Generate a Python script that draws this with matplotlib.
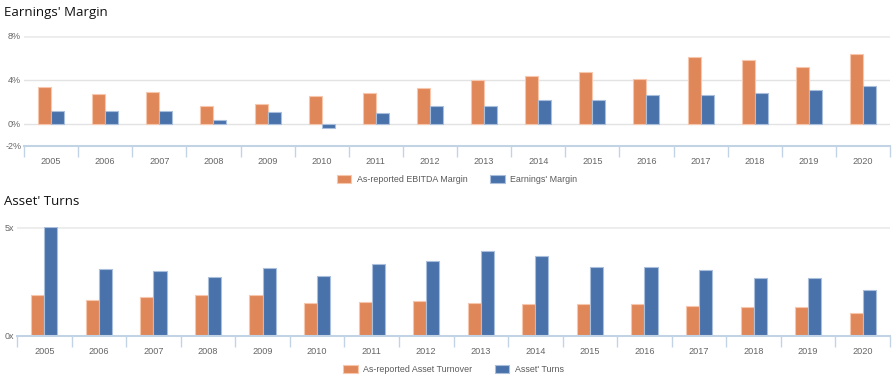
import numpy as np
import matplotlib
matplotlib.use('Agg')
import matplotlib.pyplot as plt

plt.rcParams['font.family'] = ['Liberation Sans', 'DejaVu Sans']

years = ['2005', '2006', '2007', '2008', '2009', '2010', '2011', '2012',
         '2013', '2014', '2015', '2016', '2017', '2018', '2019', '2020']

# Earnings' Margin (%)
ebitda_margin = [3.4, 2.7, 2.9, 1.65, 1.8, 2.55, 2.8, 3.3,
                 4.0, 4.4, 4.7, 4.1, 6.05, 5.8, 5.2, 6.4]
earnings_margin = [1.2, 1.2, 1.2, 0.35, 1.1, -0.4, 1.0, 1.65,
                   1.65, 2.2, 2.2, 2.65, 2.65, 2.8, 3.05, 3.45]

# Asset' Turns (x)
asset_turnover = [1.9, 1.66, 1.78, 1.86, 1.9, 1.5, 1.57, 1.61,
                  1.5, 1.46, 1.46, 1.46, 1.38, 1.34, 1.34, 1.07]
asset_turns = [5.0, 3.07, 2.99, 2.7, 3.1, 2.76, 3.32, 3.44,
               3.9, 3.68, 3.15, 3.18, 3.02, 2.65, 2.65, 2.12]

orange = '#e0875a'
blue = '#4a72aa'
orange_edge = '#f6c7ad'
blue_edge = '#a9bfdc'
axis_col = '#c3d3e6'
grid_col = '#e3e3e3'
text_col = '#666666'

fig = plt.figure(figsize=(8.96, 3.8), dpi=100)


def bar_panel(ax, a, b, ylim, yticks, ylabels, grid_vals, label_a, label_b, legend_y):
    x = np.arange(len(years))
    w = 0.24
    for g in grid_vals:
        lw = 2.0 if g == grid_vals[-1] else 1.0
        c = '#ececec' if g == grid_vals[-1] else grid_col
        ax.axhline(g, color=c, lw=lw, zorder=0)
    ax.bar(x - w / 2, a, w, color=orange, edgecolor=orange_edge, linewidth=0.8,
           label=label_a, zorder=2)
    ax.bar(x + w / 2, b, w, color=blue, edgecolor=blue_edge, linewidth=0.8,
           label=label_b, zorder=2)
    ax.set_xlim(-0.5, len(years) - 0.5)
    ax.set_ylim(*ylim)
    for s in ['top', 'right', 'left']:
        ax.spines[s].set_visible(False)
    ax.spines['bottom'].set_color(axis_col)
    ax.spines['bottom'].set_linewidth(1.5)
    ax.set_xticks(np.arange(len(years) + 1) - 0.5)
    ax.set_xticklabels([])
    ax.tick_params(axis='x', which='major', length=8, color=axis_col, width=1)
    ax.set_xticks(x, minor=True)
    ax.set_xticklabels(years, minor=True, fontsize=6.6, color=text_col)
    ax.tick_params(axis='x', which='minor', length=0, pad=8)
    ax.set_yticks(yticks)
    ax.set_yticklabels(ylabels, fontsize=6.5, color=text_col)
    ax.tick_params(axis='y', length=0, pad=2)
    ax.legend(loc='upper center', bbox_to_anchor=(0.5, legend_y), ncol=2,
              frameon=False, fontsize=6.4, labelcolor='#5a5a5a',
              handlelength=1.6, handleheight=1.0, columnspacing=2.6,
              handletextpad=0.6)


ax1 = fig.add_axes([0.0268, 0.6158, 0.9665, 0.2895])
bar_panel(ax1, ebitda_margin, earnings_margin, (-2, 8), [-2, 0, 4, 8],
          ['-2%', '0%', '4%', '8%'], [0, 4, 8],
          'As-reported EBITDA Margin', "Earnings' Margin", -0.19)
fig.text(0.004, 0.968, "Earnings' Margin", fontsize=9.5, family='Open Sans',
         color='#111111', va='center')

ax2 = fig.add_axes([0.019, 0.1158, 0.9743, 0.2868])
bar_panel(ax2, asset_turnover, asset_turns, (0, 5), [0, 5],
          ['0x', '5x'], [5],
          'As-reported Asset Turnover', "Asset' Turns", -0.19)
fig.text(0.004, 0.47, "Asset' Turns", fontsize=9.5, family='Open Sans',
         color='#111111', va='center')

fig.savefig('out.png', dpi=100)
